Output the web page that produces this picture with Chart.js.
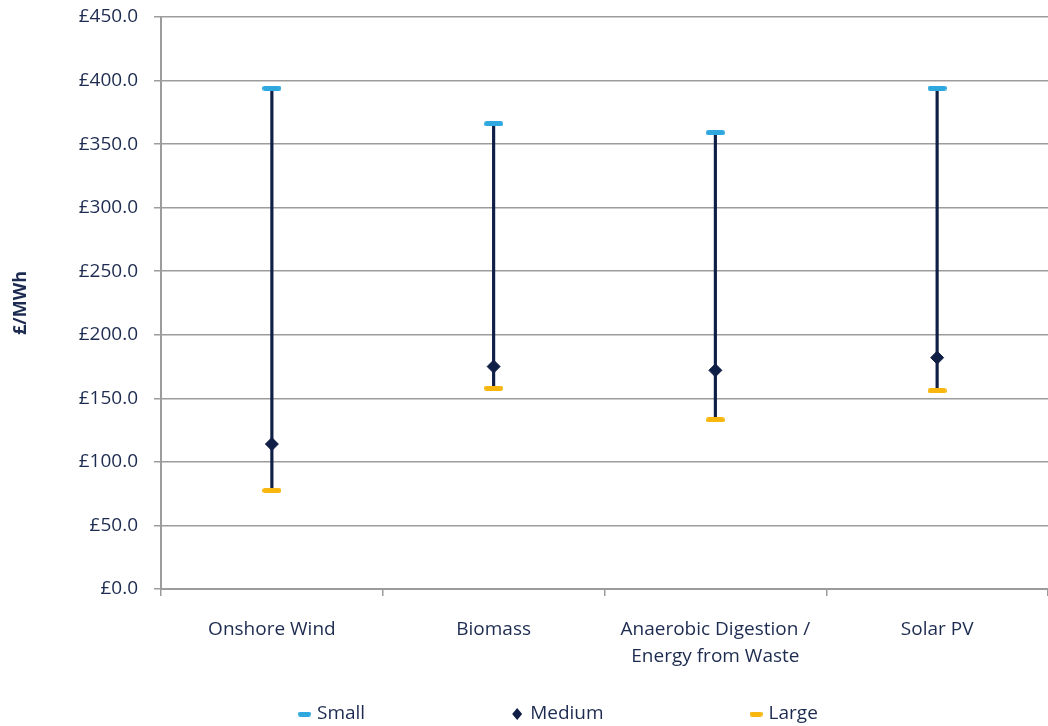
<!DOCTYPE html>
<html>
<head>
<meta charset="utf-8">
<script src="https://cdn.jsdelivr.net/npm/chart.js@4/dist/chart.umd.min.js"></script>
<style>
  html, body { margin: 0; padding: 0; background: #ffffff; }
  #wrap { width: 1048px; height: 726px; }
</style>
</head>
<body>
<div id="wrap"><canvas id="c" width="1048" height="726"></canvas></div>
<script>
// Levelised cost ranges by technology (£/MWh)
const categories = ['Onshore Wind', 'Biomass', ['Anaerobic Digestion /', 'Energy from Waste'], 'Solar PV'];
const small  = [394, 366, 359, 394];
const medium = [114, 175, 172, 182];
const large  = [77.5, 158, 133, 156];
const yTicks = [0, 50, 100, 150, 200, 250, 300, 350, 400, 450];

const NAVY = '#0f1f45';
const BLUE = '#2fa8df';
const GOLD = '#f8b70f';
const TEXT = '#1c2b4f';
const GRID = '#9c9c9c';
const FONT = "'Open Sans', 'Noto Sans', sans-serif";

// Rounded dash used as the Small / Large point marker
function dash(color, w, h) {
  const c = document.createElement('canvas');
  c.width = w; c.height = h;
  const x = c.getContext('2d');
  x.fillStyle = color;
  const r = h / 2;
  x.beginPath();
  x.moveTo(r, 0); x.lineTo(w - r, 0); x.arc(w - r, r, r, -Math.PI / 2, Math.PI / 2);
  x.lineTo(r, h); x.arc(r, r, r, Math.PI / 2, Math.PI * 1.5);
  x.fill();
  return c;
}
const smallMark = dash(BLUE, 19, 5);
const largeMark = dash(GOLD, 19, 5);
const smallKey = dash(BLUE, 13, 5);
const largeKey = dash(GOLD, 13, 5);

// Legend drawn along the bottom edge
const bottomLegend = {
  id: 'bottomLegend',
  afterDraw(chart) {
    const ctx = chart.ctx;
    const items = [
      { text: 'Small', key: smallKey },
      { text: 'Medium', diamond: true },
      { text: 'Large', key: largeKey }
    ];
    ctx.save();
    ctx.font = '19px ' + FONT;
    ctx.textBaseline = 'middle';
    const y = 714;
    let x = 298;
    const gap = 146;
    items.forEach(it => {
      if (it.diamond) {
        ctx.fillStyle = NAVY;
        ctx.beginPath();
        ctx.moveTo(x + 6, y - 6); ctx.lineTo(x + 11, y); ctx.lineTo(x + 6, y + 6); ctx.lineTo(x + 1, y);
        ctx.closePath(); ctx.fill();
      } else {
        ctx.drawImage(it.key, x, y - 2.5);
      }
      ctx.fillStyle = TEXT;
      ctx.fillText(it.text, x + 19, y);
      x += 19 + ctx.measureText(it.text).width + gap;
    });
    ctx.restore();
  }
};

new Chart(document.getElementById('c'), {
  data: {
    labels: categories,
    datasets: [
      {
        type: 'line', label: 'Small', data: small, showLine: false,
        pointStyle: smallMark, pointRadius: 9, pointHoverRadius: 9, order: 1
      },
      {
        type: 'line', label: 'Medium', data: medium, showLine: false,
        pointStyle: 'rectRot', pointRadius: 6.5, pointHoverRadius: 6.5,
        pointBackgroundColor: NAVY, pointBorderColor: NAVY, pointBorderWidth: 1, order: 1
      },
      {
        type: 'line', label: 'Large', data: large, showLine: false,
        pointStyle: largeMark, pointRadius: 9, pointHoverRadius: 9, order: 1
      },
      {
        type: 'bar', label: 'Range', data: small.map((s, i) => [large[i], s]),
        backgroundColor: NAVY, barThickness: 2.5, order: 5
      }
    ]
  },
  options: {
    responsive: false,
    animation: false,
    devicePixelRatio: 1,
    layout: { autoPadding: false, padding: { top: 17, right: 0, left: 0, bottom: 0 } },
    plugins: {
      legend: { display: false },
      tooltip: { enabled: false }
    },
    scales: {
      x: {
        type: 'category',
        offset: true,
        grid: { offset: true, drawOnChartArea: false, tickLength: 7, color: GRID, lineWidth: 1.5 },
        border: { color: GRID, width: 2 },
        ticks: {
          color: TEXT, font: { family: FONT, size: 19, lineHeight: 1.42 },
          padding: 20, maxRotation: 0, autoSkip: false
        },
        afterFit(s) { s.height = 137; s.paddingLeft = 0; s.paddingRight = 0; }
      },
      y: {
        min: 0, max: 450,
        afterBuildTicks(s) { s.ticks = yTicks.map(v => ({ value: v })); },
        grid: { color: GRID, lineWidth: 1.5, tickLength: 7 },
        border: { color: GRID, width: 2 },
        ticks: {
          color: TEXT, font: { family: FONT, size: 19 }, padding: 16,
          callback: v => '£' + Number(v).toFixed(1)
        },
        title: {
          display: true, text: '£/MWh', color: TEXT,
          font: { family: FONT, size: 18, weight: 'bold' },
          padding: { top: 10, bottom: 0 }
        },
        afterFit(s) { s.width = 161; s.paddingTop = 0; s.paddingBottom = 0; }
      }
    }
  },
  plugins: [bottomLegend]
});
</script>
</body>
</html>
